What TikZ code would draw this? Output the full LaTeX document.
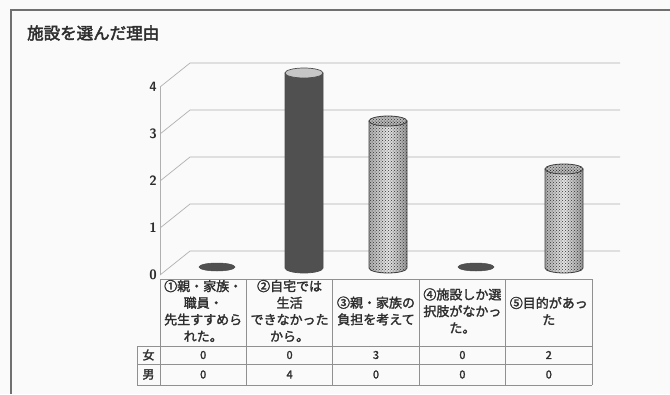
\documentclass[tikz,border=0pt]{standalone}
\usepackage{fontspec}
\newfontfamily\jp{Noto Sans CJK JP}[FakeBold=2]
\newfontfamily\jpb{Noto Sans CJK JP}[FakeBold=2.5]
\usetikzlibrary{patterns}
\definecolor{paper}{HTML}{FAFAFA}
\definecolor{ink}{HTML}{2E2E2E}
\definecolor{framecol}{HTML}{707070}
\definecolor{gridcol}{HTML}{B0B0B0}
\definecolor{tabcol}{HTML}{909090}
\definecolor{darkbar}{HTML}{505050}
\newcommand\cylbar[5]{% cx, top, bottom, body style, top style
  \path[#4] (#1-19,#2) -- (#1-19,#3) arc[start angle=180,end angle=360,x radius=19pt,y radius=5pt] -- (#1+19,#2) -- cycle;
  \path[#5] (#1,#2) ellipse (19pt and 5pt);
}
\begin{document}
\begin{tikzpicture}[x=1pt,y=-1pt,
  title/.style={font=\jpb\fontsize{16.5}{18}\selectfont, text=ink, inner sep=0},
  axlab/.style={font=\sffamily\bfseries\fontsize{13.5}{13.5}\selectfont, text=ink, inner sep=1pt, anchor=east},
  axisline/.style={draw=gridcol, line width=0.8pt},
  gridline/.style={draw=gridcol, line width=0.7pt},
  tab/.style={draw=tabcol, line width=0.7pt},
  head/.style={font=\jp\fontsize{13}{16.7}\selectfont, text=ink, align=center, inner sep=0},
  val/.style={font=\jp\fontsize{11}{12}\selectfont, text=ink, inner sep=0},
  rowlab/.style={font=\jp\fontsize{12}{12}\selectfont, text=ink, inner sep=0},
  flatbar/.style={fill=darkbar, draw=black!70, line width=0.5pt},
  darkbody/.style={fill=darkbar, draw=black!70, line width=0.7pt},
  darktop/.style={fill=gray!45, draw=black!70, line width=0.7pt},
  patbody/.style={left color=gray!65, right color=gray!80, middle color=gray!20, draw=black!75, line width=0.8pt},
  patover/.style={pattern=crosshatch dots, pattern color=black!80},
  pattop/.style={fill=gray!55, draw=black!75, line width=0.8pt}
]
\useasboundingbox (0,0) rectangle (670,394);
\fill[paper] (0,0) rectangle (670,394);
% frame
\draw[framecol, line width=2pt] (11,394) -- (11,10) -- (670,10);
% title
\node[title, anchor=west] (title) at (27,33) {施設を選んだ理由};
% axis and grid
\draw[axisline] (160,87) -- (160,275);
\foreach \v in {0,...,4}{
  \pgfmathsetmacro\yy{275-47*\v}
  \pgfmathsetmacro\yb{\yy-24}
  \coordinate (t\v) at (160,\yy);
  \coordinate (g\v) at (190,\yb);
  \coordinate (e\v) at (620,\yb);
  \draw[gridline] (t\v) -- (g\v) -- (e\v);
  \node[axlab] (lab\v) at (158,\yy) {\v};
}
% bars
\path[flatbar] (217,267) ellipse (18pt and 4pt);
\path[flatbar] (476,267) ellipse (18pt and 4pt);
\cylbar{304}{73}{268}{darkbody}{darktop}
\cylbar{388}{121}{268}{patbody}{pattop}
\cylbar{388}{121}{268}{patover}{patover}
\cylbar{564}{169}{268}{patbody}{pattop}
\cylbar{564}{169}{268}{patover}{patover}
% table
\draw[tab] (160,279) -- (592,279);
\foreach \i/\x in {0/160,1/246.4,2/332.8,3/419.2,4/505.6,5/592}{
  \draw[tab] (\x,279) -- (\x,385);
}
\draw[tab] (137,346) -- (592,346);
\draw[tab] (137,364) -- (592,364);
\draw[tab] (137,385) -- (592,385);
\draw[tab] (137,346) -- (137,385);
% header texts
\node[head] (h1) at (203.2,311) {①親・家族・\\職員・\\先生すすめら\\れた。};
\node[head] (h2) at (289.6,311) {②自宅では\\生活\\できなかった\\から。};
\node[head] (h3) at (376,311) {③親・家族の\\負担を考えて};
\node[head] (h4) at (462.4,311) {④施設しか選\\択肢がなかっ\\た。};
\node[head] (h5) at (548.8,311) {⑤目的があっ\\た};
% row labels
\node[rowlab] (rf) at (148.5,355) {女};
\node[rowlab] (rm) at (148.5,374.5) {男};
% values
\node[val] (f1) at (203.2,355) {0};
\node[val] (f2) at (289.6,355) {0};
\node[val] (f3) at (376,355) {3};
\node[val] (f4) at (462.4,355) {0};
\node[val] (f5) at (548.8,355) {2};
\node[val] (m1) at (203.2,374.5) {0};
\node[val] (m2) at (289.6,374.5) {4};
\node[val] (m3) at (376,374.5) {0};
\node[val] (m4) at (462.4,374.5) {0};
\node[val] (m5) at (548.8,374.5) {0};
\end{tikzpicture}
\end{document}
